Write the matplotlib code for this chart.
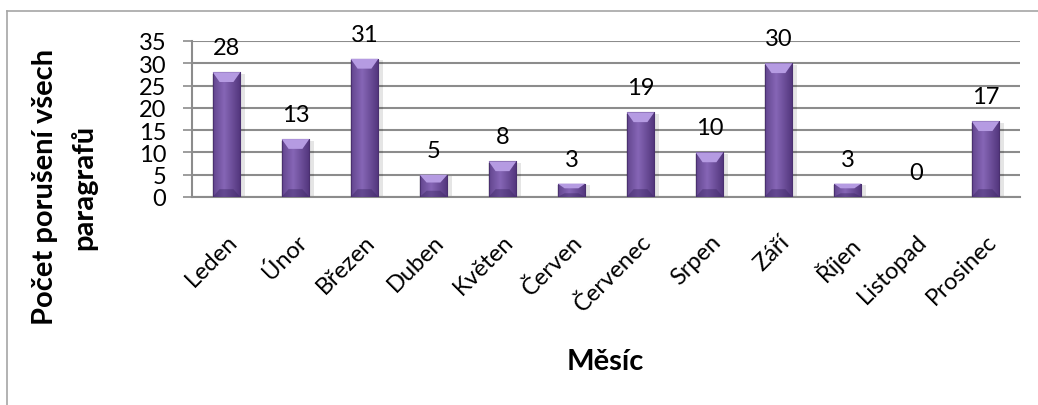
import numpy as np
import matplotlib.pyplot as plt
from matplotlib.lines import Line2D

# data
mesice = ['Leden', 'Únor', 'Březen', 'Duben', 'Květen', 'Červen',
          'Červenec', 'Srpen', 'Září', 'Říjen', 'Listopad', 'Prosinec']
poruseni = [28, 13, 31, 5, 8, 3, 19, 10, 30, 3, 0, 17]
y_ticks = [0, 5, 10, 15, 20, 25, 30, 35]

plt.rcParams['font.family'] = ['Lato', 'DejaVu Sans']

W, H = 1038, 406
fig = plt.figure(figsize=(W / 100, H / 100), dpi=100)
fig.patch.set_facecolor('white')

# chart frame (light gray, runs off the right / bottom)
fig.add_artist(Line2D([7 / W, 1.0], [1 - 12 / H, 1 - 12 / H], color='#a6a6a6', lw=1.2))
fig.add_artist(Line2D([7 / W, 7 / W], [0, 1 - 12 / H], color='#a6a6a6', lw=1.2))

ax = fig.add_axes([192 / W, 1 - 198 / H, (1020 - 192) / W, (198 - 42) / H])
x = np.arange(len(mesice))
bw = 0.4

ax.set_xlim(-0.5, len(mesice) - 0.5)
ax.set_ylim(0, 35)

# horizontal gradient used for the bars
grad = np.linspace(0, 1, 64)
prof = np.clip(1 - np.abs(grad - 0.4) * 1.7, 0, 1)
c_dark = np.array([0x52, 0x36, 0x7c]) / 255
c_light = np.array([0x86, 0x66, 0xb6]) / 255
img = (c_dark[None, :] + (c_light - c_dark)[None, :] * prof[:, None])[None, :, :]

for xi, v in zip(x, poruseni):
    if v <= 0:
        continue
    # soft shadow
    ax.bar(xi + 0.03, v, bw + 0.07, bottom=-0.35, color='#000000', alpha=0.10,
           zorder=2, linewidth=0)
    b = ax.bar(xi, v, bw, color='none', edgecolor='#4a3070', linewidth=0.8, zorder=4)[0]
    im = ax.imshow(img, extent=[xi - bw / 2, xi + bw / 2, 0, v], aspect='auto',
                   zorder=3, interpolation='bilinear')
    im.set_clip_path(b)
    # bevel on top and bottom
    bev = min(2.2, v * 0.35)
    ax.fill([xi - bw / 2, xi + bw / 2, xi + bw / 2 - 0.1, xi - bw / 2 + 0.1],
            [v, v, v - bev, v - bev], color='#b59be2', zorder=4, linewidth=0)
    ax.fill([xi - bw / 2, xi + bw / 2, xi + bw / 2 - 0.1, xi - bw / 2 + 0.1],
            [0, 0, bev * 0.8, bev * 0.8], color='#3e2866', alpha=0.45,
            zorder=4, linewidth=0)

for xi, v in zip(x, poruseni):
    ax.annotate(str(v), (xi, v), xytext=(0, 13), textcoords='offset points',
                ha='center', va='baseline', fontsize=17, color='black', zorder=5)

ax.set_yticks(y_ticks)
ax.set_yticklabels([str(t) for t in y_ticks], fontsize=17)
ax.grid(axis='y', color='#8c8c8c', linewidth=1.5, zorder=0)
ax.set_axisbelow(True)

ax.set_xticks(x)
ax.set_xticklabels(mesice, rotation=45, ha='right', va='top', rotation_mode='anchor',
                   fontsize=17)
ax.tick_params(axis='x', length=0, pad=24)
ax.tick_params(axis='y', length=6.5, width=1.2, color='#8c8c8c', pad=12)

for s in ['top', 'right']:
    ax.spines[s].set_visible(False)
ax.spines['left'].set_color('#8c8c8c')
ax.spines['left'].set_linewidth(1.5)
ax.spines['bottom'].set_color('#8c8c8c')
ax.spines['bottom'].set_linewidth(1.5)

# two-line y label
fig.text(45 / W, 1 - 187 / H, 'Počet porušení všech', rotation=90,
         ha='center', va='center', fontsize=21, fontweight='bold')
fig.text(84 / W, 1 - 187 / H, 'paragrafů', rotation=90,
         ha='center', va='center', fontsize=21, fontweight='bold')
fig.text(605 / W, 1 - 362 / H, 'Měsíc', ha='center', va='center', fontsize=21,
         fontweight='bold')

fig.savefig('out.png', dpi=100)
